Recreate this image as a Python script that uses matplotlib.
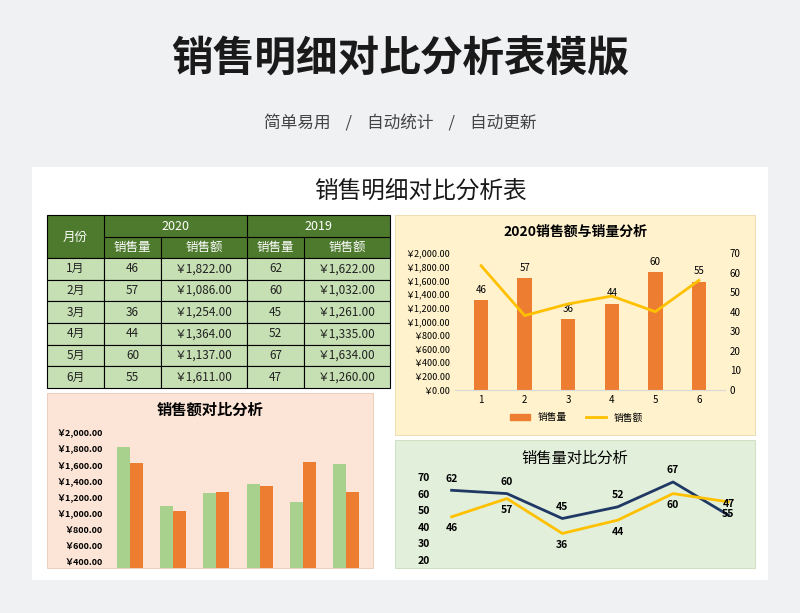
import matplotlib
matplotlib.use("Agg")
import matplotlib.pyplot as plt
from matplotlib.patches import Rectangle
from matplotlib import font_manager as fm

cjk = None
for f in fm.findSystemFonts():
    if "CJK" in f and ("Regular" in f or "Bold" in f or f.endswith(".ttc")):
        try:
            fm.fontManager.addfont(f)
        except Exception:
            pass
names = sorted({e.name for e in fm.fontManager.ttflist if "CJK" in e.name})
for pref in ["Noto Sans CJK SC", "Noto Sans CJK JP", "Noto Sans CJK TC", "Noto Sans CJK KR"]:
    if pref in names:
        cjk = pref
        break
if cjk is None and names:
    cjk = names[0]
plt.rcParams['font.family'] = [cjk, 'DejaVu Sans'] if cjk else ['DejaVu Sans']

months = ["1月", "2月", "3月", "4月", "5月", "6月"]
qty_2020 = [46, 57, 36, 44, 60, 55]
amt_2020 = [1822, 1086, 1254, 1364, 1137, 1611]
qty_2019 = [62, 60, 45, 52, 67, 47]
amt_2019 = [1622, 1032, 1261, 1335, 1634, 1260]
# combo chart values as drawn in the reference
combo_bars = [1310, 1630, 1030, 1260, 1720, 1580]
combo_line = [63.5, 38, 44, 48, 40, 56]
xcats = ["1", "2", "3", "4", "5", "6"]

W, H = 800, 613
fig = plt.figure(figsize=(8, 6.13), dpi=100)
fig.patch.set_facecolor("#f0f1f3")

def ax_px(x0, y0, x1, y1, **kw):
    return fig.add_axes([x0 / W, 1 - y1 / H, (x1 - x0) / W, (y1 - y0) / H], **kw)

bg = ax_px(0, 0, W, H)
bg.set_xlim(0, W); bg.set_ylim(H, 0); bg.axis("off")
bg.text(400, 60, "销售明细对比分析表模版", ha="center", va="center", fontsize=30, fontweight="bold", color="#1a1a1a")
bg.text(400, 124, "简单易用    /    自动统计    /    自动更新", ha="center", va="center", fontsize=12, color="#444444")
bg.add_patch(Rectangle((32, 167), 736, 413, facecolor="white", edgecolor="none"))
bg.text(420, 191, "销售明细对比分析表", ha="center", va="center", fontsize=17, color="#1a1a1a")

# table
cols = [47, 104, 161, 247, 304, 390]
dark = "#4e7a2e"; light = "#c6e0b4"
bg.add_patch(Rectangle((47, 215), 343, 43, facecolor=dark, edgecolor="black", lw=0.8))
for xx in [104, 247]:
    bg.plot([xx, xx], [215, 258], color="black", lw=0.8)
for xx in [161, 304]:
    bg.plot([xx, xx], [237, 258], color="black", lw=0.8)
bg.plot([104, 390], [237, 237], color="black", lw=0.8)
bg.text(75, 237, "月份", ha="center", va="center", color="white", fontsize=9)
bg.text(175, 226, "2020", ha="center", va="center", color="white", fontsize=9)
bg.text(318, 226, "2019", ha="center", va="center", color="white", fontsize=9)
for i, t in enumerate(["销售量", "销售额", "销售量", "销售额"]):
    bg.text((cols[i + 1] + cols[i + 2]) / 2, 247.5, t, ha="center", va="center", color="white", fontsize=9)
rh = (388 - 258) / 6
for r in range(6):
    y0 = 258 + r * rh
    vals = [months[r], str(qty_2020[r]), f"￥{amt_2020[r]:,}.00", str(qty_2019[r]), f"￥{amt_2019[r]:,}.00"]
    for c in range(5):
        bg.add_patch(Rectangle((cols[c], y0), cols[c + 1] - cols[c], rh, facecolor=light, edgecolor="black", lw=0.8))
        bg.text((cols[c] + cols[c + 1]) / 2, y0 + rh / 2, vals[c], ha="center", va="center", fontsize=8.5, color="#222222")

# panels
bg.add_patch(Rectangle((395, 215), 360, 220, facecolor="#fff2cc", edgecolor="#e8d9a8", lw=0.6))
bg.add_patch(Rectangle((395, 440), 360, 128, facecolor="#e2efda", edgecolor="#c9dcbd", lw=0.6))
bg.add_patch(Rectangle((47, 393), 326, 175, facecolor="#fce4d6", edgecolor="#ecc9b5", lw=0.6))
bg.text(575, 232, "2020销售额与销量分析", ha="center", va="center", fontsize=10, fontweight="bold")
bg.text(575, 458, "销售量对比分析", ha="center", va="center", fontsize=11)
bg.text(210, 410, "销售额对比分析", ha="center", va="center", fontsize=11, fontweight="bold")

# combo chart
a1 = ax_px(455, 253, 725, 390)
a1.patch.set_alpha(0)
x = list(range(len(xcats)))
a1.bar(x, combo_bars, width=0.33, color="#ed7d31")
a1.set_ylim(0, 2000)
a1.set_yticks(range(0, 2001, 200))
a1.set_yticklabels([f"￥{v:,}.00" for v in range(0, 2001, 200)], fontsize=6.5)
a1.set_xticks(x); a1.set_xticklabels(xcats, fontsize=7)
for i, v in enumerate(combo_bars):
    a1.text(i, v + 80, str(qty_2020[i]), ha="center", va="bottom", fontsize=7)
a1.set_xlim(-0.6, 5.6)
a1b = a1.twinx()
a1b.plot(x, combo_line, color="#ffc000", lw=2)
a1b.set_ylim(0, 70); a1b.set_yticks(range(0, 71, 10))
a1b.tick_params(labelsize=7, length=0)
for a in (a1, a1b):
    for s in a.spines.values():
        s.set_visible(False)
a1.spines["bottom"].set_visible(True); a1.spines["bottom"].set_color("#d9d9d9")
a1.tick_params(length=0)
a1.legend([Rectangle((0, 0), 1, 1, color="#ed7d31"), plt.Line2D([], [], color="#ffc000", lw=2)],
          ["销售量", "销售额"], loc="upper center", bbox_to_anchor=(0.45, -0.1), ncol=2,
          frameon=False, fontsize=7, handlelength=2)

# line chart
a2 = ax_px(435, 477, 745, 560)
a2.patch.set_alpha(0)
a2.plot(x, qty_2019, color="#1f3864", lw=2)
a2.plot(x, qty_2020, color="#ffc000", lw=2)
a2.set_ylim(20, 70); a2.set_yticks(range(20, 71, 10))
a2.set_xlim(-0.3, 5.3)
a2.set_xticks([])
a2.tick_params(labelsize=7.5, length=0)
for lab in a2.get_yticklabels():
    lab.set_fontweight("bold")
for s in a2.spines.values():
    s.set_visible(False)
for i in x:
    a2.text(i, qty_2019[i] + 4, str(qty_2019[i]), ha="center", va="bottom", fontsize=7.5, fontweight="bold")
    a2.text(i, qty_2020[i] - 4, str(qty_2020[i]), ha="center", va="top", fontsize=7.5, fontweight="bold")

# bar comparison
a3 = ax_px(108, 433, 368, 568)
a3.patch.set_alpha(0)
w = 0.3
a3.bar([i - w / 2 for i in x], amt_2020, width=w, color="#a9d18e")
a3.bar([i + w / 2 for i in x], amt_2019, width=w, color="#ed7d31")
a3.set_ylim(320, 2000)
a3.set_yticks(range(400, 2001, 200))
a3.set_yticklabels([f"￥{v:,}.00" for v in range(400, 2001, 200)], fontsize=6.5, fontweight="bold")
a3.set_xticks([]); a3.set_xlim(-0.5, 5.5)
a3.tick_params(length=0)
for s in a3.spines.values():
    s.set_visible(False)

fig.savefig("out.png", dpi=100, facecolor=fig.get_facecolor())
